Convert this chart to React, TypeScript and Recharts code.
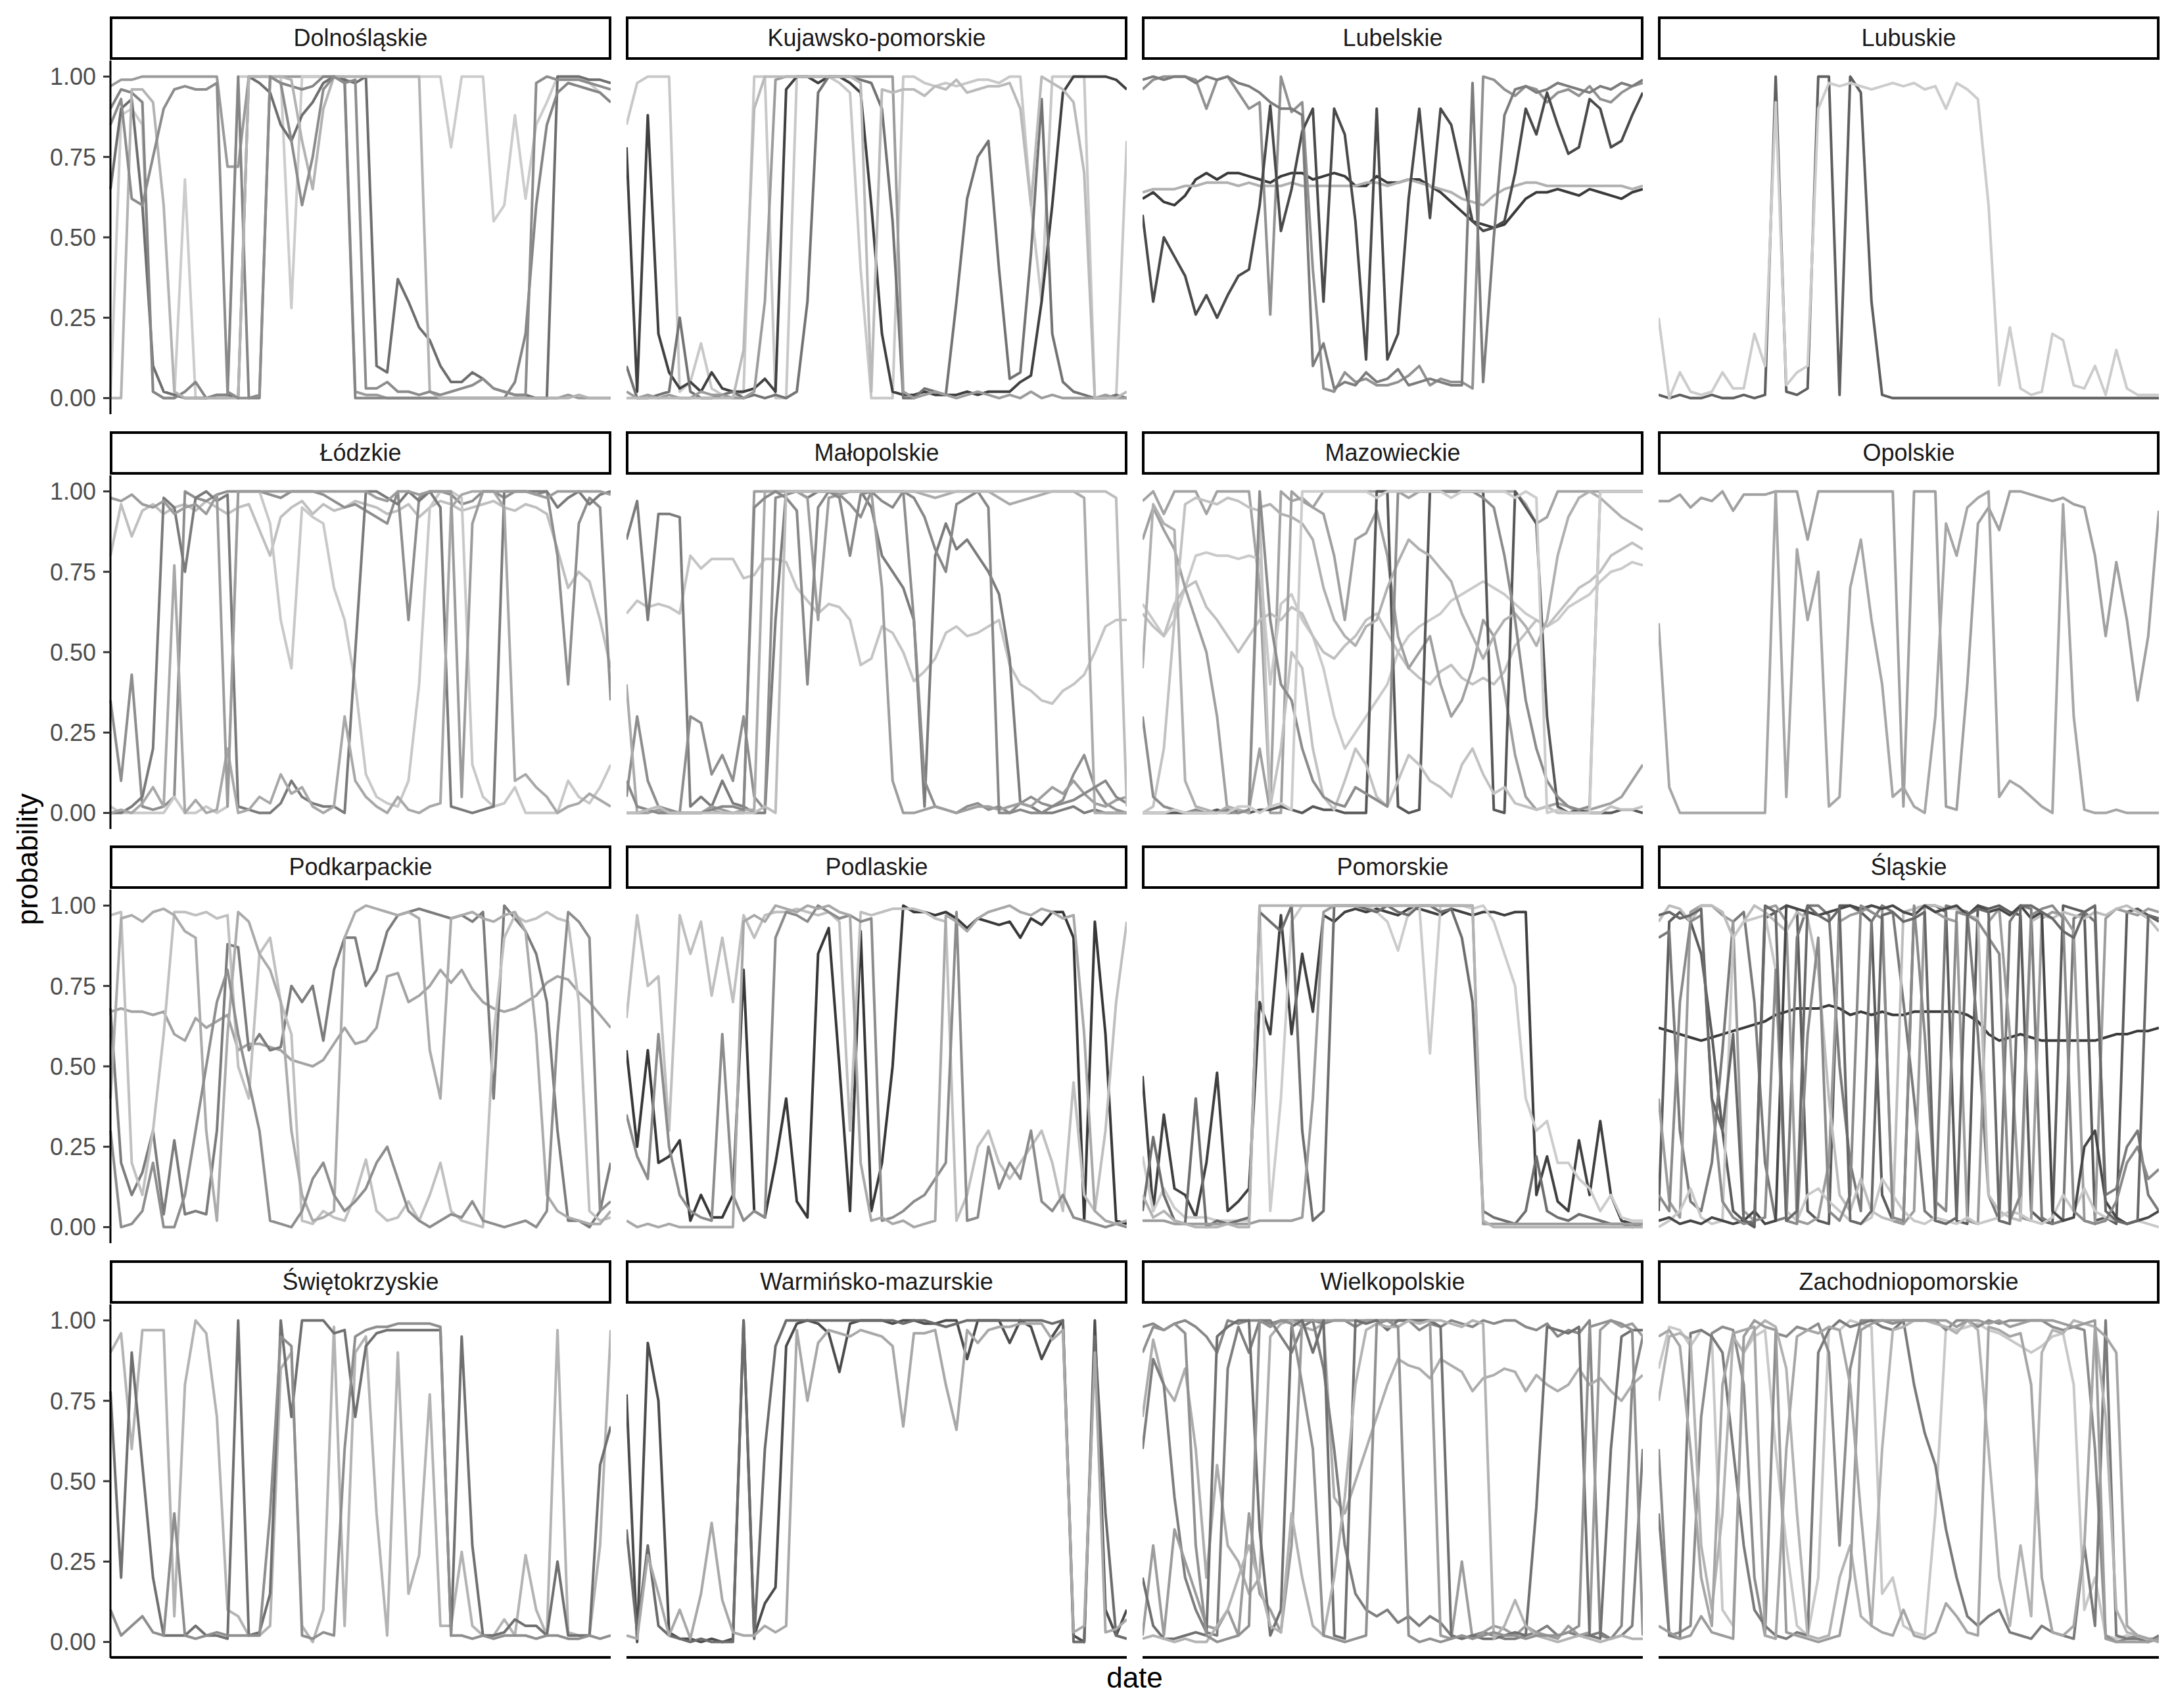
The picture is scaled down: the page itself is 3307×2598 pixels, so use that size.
import { LineChart, Line, XAxis, YAxis } from 'recharts'

// probability (in %) per time step, one array per line
const panelNames = [
  'Dolnośląskie', 'Kujawsko-pomorskie', 'Lubelskie', 'Lubuskie',
  'Łódzkie', 'Małopolskie', 'Mazowieckie', 'Opolskie',
  'Podkarpackie', 'Podlaskie', 'Pomorskie', 'Śląskie',
  'Świętokrzyskie', 'Warmińsko-mazurskie', 'Wielkopolskie', 'Zachodniopomorskie',
]

const yTicks = [0, 25, 50, 75, 100]

const dolnoslaskie = [
  [97, 99, 99, 100, 100, 100, 100, 100, 100, 100, 100, 72, 72, 100, 100, 100, 100, 100, 100, 100, 100, 100, 100, 2, 1, 1, 0, 0, 0, 0, 0, 0, 0, 0, 0, 0, 0, 0, 0, 0, 0, 0, 0, 1, 0, 0, 0, 0],
  [0, 88, 90, 85, 2, 0, 0, 68, 0, 0, 0, 0, 100, 100, 100, 100, 100, 28, 100, 100, 100, 100, 100, 100, 100, 100, 100, 100, 100, 100, 100, 100, 78, 100, 100, 100, 55, 60, 88, 62, 85, 92, 100, 100, 100, 98, 95, 92],
  [65, 90, 93, 60, 10, 2, 1, 0, 0, 0, 1, 1, 0, 100, 98, 95, 85, 80, 88, 92, 98, 100, 99, 98, 100, 10, 8, 37, 30, 22, 18, 10, 5, 5, 8, 6, 3, 2, 1, 1, 0, 0, 100, 100, 100, 99, 99, 98],
  [90, 96, 95, 92, 2, 0, 0, 2, 5, 0, 1, 1, 100, 0, 0, 100, 98, 97, 96, 97, 100, 100, 98, 0, 0, 0, 0, 0, 0, 0, 0, 0, 0, 0, 0, 0, 0, 0, 5, 20, 60, 85, 95, 98, 97, 96, 95, 92],
  [0, 0, 96, 96, 92, 60, 2, 0, 0, 0, 0, 0, 0, 100, 100, 100, 100, 99, 80, 65, 90, 100, 100, 100, 100, 100, 100, 100, 100, 100, 2, 0, 0, 0, 0, 0, 0, 0, 0, 0, 0, 0, 0, 0, 1, 0, 0, 0],
  [85, 93, 62, 60, 75, 90, 96, 97, 96, 96, 98, 2, 0, 0, 1, 100, 98, 80, 60, 75, 96, 100, 98, 99, 3, 3, 5, 2, 2, 1, 2, 1, 2, 3, 4, 6, 3, 2, 1, 1, 98, 100, 99, 99, 99, 98, 97, 96],
]

const kujawskoPomorskie = [
  [85, 98, 100, 100, 100, 2, 5, 17, 3, 1, 0, 2, 100, 100, 0, 0, 100, 100, 100, 100, 98, 95, 40, 0, 0, 0, 100, 100, 98, 97, 98, 97, 98, 99, 99, 98, 100, 100, 60, 30, 100, 100, 100, 100, 0, 0, 0, 80],
  [78, 2, 88, 20, 8, 3, 5, 2, 8, 3, 2, 2, 3, 6, 2, 96, 100, 100, 98, 100, 100, 98, 95, 60, 20, 2, 1, 1, 2, 1, 1, 1, 2, 1, 2, 2, 2, 5, 7, 30, 60, 95, 100, 100, 100, 100, 99, 96],
  [10, 0, 0, 1, 2, 25, 2, 0, 0, 1, 2, 0, 1, 0, 1, 0, 2, 30, 95, 100, 100, 100, 99, 98, 90, 55, 0, 0, 3, 2, 1, 30, 62, 75, 80, 40, 6, 8, 45, 93, 20, 5, 2, 1, 0, 0, 1, 0],
  [2, 0, 1, 0, 1, 0, 0, 2, 1, 1, 0, 0, 2, 30, 99, 100, 100, 100, 100, 100, 100, 100, 100, 100, 100, 100, 2, 0, 1, 2, 1, 0, 1, 2, 1, 0, 1, 0, 2, 0, 1, 0, 0, 0, 0, 1, 0, 0],
  [0, 0, 0, 0, 0, 0, 0, 0, 0, 0, 0, 15, 90, 100, 100, 100, 100, 100, 100, 100, 100, 100, 98, 2, 96, 95, 96, 96, 94, 97, 96, 99, 95, 96, 97, 97, 98, 90, 60, 100, 98, 96, 92, 70, 0, 0, 0, 2],
]

const lubelskie = [
  [62, 64, 61, 60, 63, 68, 70, 68, 70, 70, 69, 68, 67, 69, 70, 70, 68, 69, 70, 69, 66, 66, 69, 67, 67, 68, 68, 66, 64, 61, 58, 55, 54, 53, 54, 58, 62, 64, 64, 65, 64, 63, 65, 64, 63, 62, 64, 65],
  [64, 65, 65, 65, 66, 66, 67, 67, 67, 66, 67, 66, 66, 66, 67, 66, 66, 66, 66, 66, 66, 67, 67, 66, 67, 68, 67, 66, 65, 64, 62, 61, 60, 63, 65, 66, 67, 67, 66, 66, 66, 66, 66, 66, 66, 66, 65, 66],
  [96, 99, 100, 100, 100, 99, 90, 99, 100, 95, 90, 92, 26, 100, 89, 92, 40, 3, 2, 8, 5, 6, 4, 4, 5, 7, 10, 4, 6, 5, 5, 3, 100, 99, 96, 94, 97, 96, 92, 95, 96, 94, 97, 93, 92, 95, 97, 98],
  [57, 30, 50, 44, 38, 26, 32, 25, 32, 38, 40, 60, 91, 52, 65, 83, 90, 30, 90, 82, 55, 12, 90, 12, 20, 62, 90, 56, 90, 85, 70, 55, 52, 53, 55, 70, 90, 82, 95, 85, 76, 78, 93, 90, 78, 80, 88, 95],
  [99, 100, 99, 100, 100, 98, 100, 99, 100, 98, 97, 95, 92, 90, 90, 88, 10, 17, 3, 5, 4, 8, 5, 6, 9, 4, 5, 6, 5, 4, 4, 98, 5, 50, 88, 96, 97, 95, 96, 98, 97, 96, 95, 97, 96, 98, 97, 99],
]

const lubuskie = [
  [1, 0, 1, 0, 0, 1, 0, 0, 1, 0, 1, 100, 2, 1, 3, 100, 100, 1, 100, 95, 30, 1, 0, 0, 0, 0, 0, 0, 0, 0, 0, 0, 0, 0, 0, 0, 0, 0, 0, 0, 0, 0, 0, 0, 0, 0, 0, 0],
  [25, 0, 8, 2, 1, 2, 8, 3, 3, 20, 10, 92, 4, 8, 10, 90, 98, 97, 98, 97, 96, 97, 98, 97, 98, 96, 97, 90, 98, 96, 93, 60, 4, 22, 3, 1, 2, 20, 18, 4, 3, 10, 1, 15, 3, 1, 1, 1],
]

const lodzkie = [
  [80, 96, 86, 94, 96, 93, 95, 96, 94, 97, 95, 93, 95, 96, 88, 80, 92, 95, 97, 93, 96, 94, 95, 97, 96, 95, 93, 94, 96, 92, 95, 97, 96, 94, 95, 96, 97, 95, 94, 96, 95, 93, 82, 70, 75, 72, 60, 45],
  [35, 10, 43, 2, 1, 2, 5, 100, 98, 97, 99, 100, 100, 100, 100, 99, 98, 100, 100, 100, 99, 97, 95, 96, 94, 92, 90, 100, 60, 98, 100, 100, 99, 96, 97, 100, 100, 98, 100, 100, 99, 100, 80, 40, 90, 98, 95, 35],
  [2, 0, 0, 0, 0, 0, 5, 0, 0, 2, 0, 2, 100, 100, 100, 90, 60, 45, 95, 92, 90, 70, 60, 40, 12, 5, 3, 2, 10, 40, 95, 100, 100, 98, 15, 5, 2, 3, 8, 0, 0, 0, 0, 10, 5, 3, 8, 15],
  [0, 0, 2, 5, 20, 98, 95, 75, 98, 100, 97, 99, 2, 1, 0, 0, 3, 10, 5, 3, 2, 2, 0, 50, 100, 100, 98, 96, 100, 97, 100, 95, 2, 1, 0, 1, 2, 100, 100, 100, 100, 100, 95, 98, 100, 96, 99, 100],
  [0, 1, 0, 3, 8, 2, 77, 0, 4, 0, 1, 20, 0, 1, 5, 3, 12, 6, 8, 2, 0, 2, 30, 10, 5, 2, 0, 5, 1, 0, 2, 3, 95, 99, 100, 100, 100, 95, 10, 12, 8, 5, 0, 2, 3, 6, 4, 2],
  [98, 97, 99, 96, 95, 97, 93, 95, 96, 93, 99, 2, 100, 100, 100, 100, 100, 100, 100, 100, 100, 100, 100, 100, 100, 98, 97, 100, 100, 99, 100, 100, 100, 5, 90, 100, 100, 100, 100, 100, 99, 98, 100, 100, 100, 100, 100, 99],
]

const malopolskie = [
  [62, 66, 64, 65, 64, 62, 80, 76, 79, 79, 79, 73, 74, 79, 79, 78, 70, 66, 62, 65, 64, 60, 46, 48, 58, 56, 50, 41, 44, 48, 56, 58, 55, 56, 58, 60, 46, 40, 38, 35, 34, 38, 40, 43, 50, 58, 60, 60],
  [85, 97, 60, 93, 93, 92, 2, 5, 2, 10, 3, 2, 0, 0, 60, 100, 100, 98, 100, 100, 99, 100, 100, 95, 80, 75, 70, 60, 2, 80, 90, 82, 85, 80, 75, 68, 48, 3, 2, 0, 0, 1, 2, 0, 1, 0, 0, 0],
  [5, 30, 10, 2, 1, 0, 30, 28, 12, 18, 10, 30, 5, 1, 98, 99, 100, 100, 100, 100, 99, 96, 92, 100, 100, 100, 100, 60, 10, 2, 1, 0, 2, 3, 1, 2, 0, 3, 5, 3, 2, 4, 12, 18, 8, 3, 1, 0],
  [0, 0, 0, 1, 0, 0, 0, 0, 2, 1, 0, 0, 100, 100, 100, 100, 100, 98, 60, 98, 99, 100, 100, 100, 70, 10, 0, 0, 1, 2, 1, 0, 1, 2, 2, 1, 2, 3, 2, 5, 8, 6, 10, 6, 3, 2, 4, 5],
  [40, 0, 1, 0, 0, 0, 0, 0, 1, 0, 0, 1, 1, 100, 100, 100, 100, 100, 100, 100, 100, 100, 100, 100, 100, 100, 100, 100, 99, 98, 99, 100, 100, 100, 100, 98, 96, 97, 98, 99, 100, 100, 100, 98, 0, 0, 0, 0],
  [10, 2, 1, 0, 0, 0, 0, 0, 1, 2, 2, 1, 95, 98, 100, 98, 94, 40, 95, 100, 98, 80, 99, 100, 97, 95, 100, 98, 92, 82, 75, 96, 98, 100, 95, 0, 0, 1, 0, 0, 2, 3, 4, 6, 8, 10, 5, 3],
  [0, 0, 1, 2, 0, 0, 0, 0, 0, 0, 0, 0, 0, 2, 0, 100, 100, 100, 100, 100, 100, 100, 100, 100, 100, 100, 100, 100, 100, 100, 100, 100, 100, 100, 100, 100, 100, 100, 100, 100, 100, 100, 100, 100, 100, 100, 98, 2],
]

const mazowieckie = [
  [97, 100, 93, 100, 100, 100, 93, 100, 100, 100, 100, 70, 2, 100, 97, 98, 95, 100, 100, 100, 100, 100, 100, 100, 100, 98, 100, 100, 100, 100, 100, 100, 100, 100, 100, 100, 96, 90, 92, 100, 100, 100, 100, 100, 100, 100, 100, 100],
  [65, 60, 55, 60, 70, 80, 81, 80, 80, 79, 80, 79, 40, 65, 68, 60, 55, 45, 30, 20, 25, 30, 35, 40, 50, 55, 58, 60, 62, 66, 68, 70, 72, 70, 68, 65, 62, 60, 58, 60, 64, 66, 68, 72, 75, 76, 78, 77],
  [62, 58, 55, 65, 70, 72, 64, 60, 55, 50, 55, 60, 62, 60, 64, 62, 55, 50, 48, 52, 55, 60, 62, 56, 50, 45, 42, 40, 44, 46, 42, 40, 42, 40, 44, 52, 56, 60, 58, 62, 66, 70, 72, 75, 80, 82, 84, 82],
  [85, 95, 88, 82, 70, 60, 50, 30, 0, 0, 1, 20, 0, 0, 100, 97, 95, 93, 80, 60, 85, 87, 94, 80, 55, 45, 50, 55, 40, 30, 35, 45, 60, 55, 38, 18, 5, 1, 2, 3, 2, 0, 1, 2, 3, 5, 10, 15],
  [0, 0, 0, 0, 0, 0, 0, 1, 0, 1, 0, 1, 1, 2, 1, 0, 2, 1, 1, 0, 0, 0, 100, 100, 2, 0, 1, 100, 100, 100, 100, 100, 100, 1, 0, 100, 95, 90, 30, 2, 0, 1, 0, 0, 0, 1, 1, 0],
  [45, 96, 90, 88, 10, 2, 1, 0, 2, 1, 0, 95, 96, 93, 92, 90, 85, 70, 60, 55, 52, 58, 60, 70, 78, 85, 82, 80, 76, 72, 62, 55, 48, 55, 60, 62, 58, 52, 60, 80, 92, 98, 100, 98, 95, 92, 90, 88],
  [0, 2, 20, 60, 96, 98, 97, 96, 98, 97, 95, 94, 2, 20, 50, 45, 20, 5, 1, 10, 20, 15, 5, 2, 10, 18, 15, 10, 8, 5, 15, 20, 12, 6, 8, 3, 2, 1, 2, 0, 0, 0, 0, 0, 2, 1, 1, 2],
  [30, 5, 2, 1, 0, 1, 0, 0, 1, 0, 1, 100, 60, 40, 35, 20, 10, 5, 3, 2, 8, 6, 4, 2, 100, 100, 100, 100, 100, 100, 100, 100, 98, 95, 80, 60, 35, 20, 10, 5, 2, 1, 2, 100, 100, 100, 100, 100],
  [0, 0, 0, 1, 0, 0, 0, 0, 0, 2, 2, 0, 2, 3, 1, 100, 100, 100, 100, 100, 100, 100, 98, 100, 100, 100, 100, 100, 100, 98, 100, 100, 100, 100, 100, 98, 100, 98, 0, 1, 0, 0, 0, 100, 100, 100, 100, 100],
]

const opolskie = [
  [97, 97, 99, 95, 98, 97, 100, 94, 99, 99, 99, 100, 100, 100, 85, 100, 100, 100, 100, 100, 100, 100, 100, 2, 100, 100, 100, 2, 1, 40, 90, 95, 88, 100, 100, 99, 98, 97, 98, 96, 95, 80, 55, 78, 60, 35, 55, 94],
  [59, 8, 0, 0, 0, 0, 0, 0, 0, 0, 0, 100, 5, 82, 60, 75, 2, 5, 70, 85, 60, 40, 5, 8, 2, 0, 30, 90, 80, 95, 98, 100, 5, 10, 8, 5, 2, 0, 96, 30, 1, 0, 0, 1, 0, 0, 0, 0],
]

const podkarpackie = [
  [67, 68, 67, 67, 66, 67, 60, 58, 65, 62, 64, 66, 55, 57, 57, 56, 55, 52, 51, 50, 52, 57, 62, 57, 58, 62, 78, 79, 70, 72, 75, 80, 76, 80, 74, 70, 68, 67, 68, 70, 72, 76, 78, 77, 73, 70, 66, 62],
  [68, 20, 10, 17, 30, 4, 27, 4, 5, 4, 30, 88, 87, 55, 60, 55, 56, 75, 70, 75, 58, 80, 90, 90, 75, 80, 92, 97, 98, 99, 98, 97, 96, 97, 95, 98, 40, 100, 96, 92, 85, 70, 30, 2, 2, 0, 5, 20],
  [97, 98, 20, 10, 30, 60, 98, 98, 97, 98, 96, 97, 50, 40, 85, 90, 70, 60, 2, 1, 5, 3, 2, 10, 21, 5, 2, 3, 8, 2, 10, 20, 5, 2, 1, 0, 60, 90, 97, 95, 96, 98, 96, 95, 70, 5, 2, 3],
  [40, 96, 97, 95, 98, 99, 97, 92, 90, 30, 2, 60, 98, 95, 85, 80, 70, 30, 10, 2, 3, 5, 90, 98, 100, 99, 98, 97, 98, 96, 55, 40, 96, 97, 98, 96, 95, 97, 98, 92, 60, 10, 5, 3, 2, 1, 1, 5],
  [30, 0, 1, 5, 20, 0, 0, 10, 30, 50, 70, 80, 60, 45, 30, 2, 1, 0, 5, 15, 20, 10, 5, 8, 12, 20, 25, 15, 5, 2, 0, 2, 4, 3, 8, 2, 1, 0, 1, 2, 0, 5, 60, 98, 95, 90, 5, 8],
]

const podlaskie = [
  [55, 25, 55, 20, 22, 27, 2, 10, 3, 3, 10, 80, 5, 3, 20, 40, 8, 3, 85, 93, 50, 5, 92, 5, 20, 50, 100, 98, 98, 97, 98, 96, 93, 96, 95, 94, 95, 90, 96, 94, 98, 98, 90, 2, 95, 60, 2, 1],
  [65, 97, 75, 78, 30, 97, 85, 95, 72, 90, 70, 97, 90, 97, 98, 98, 99, 98, 97, 98, 95, 30, 98, 97, 98, 99, 99, 99, 98, 96, 95, 2, 10, 25, 30, 20, 15, 20, 25, 30, 20, 5, 45, 10, 5, 30, 70, 95],
  [35, 22, 15, 60, 25, 10, 5, 3, 2, 60, 10, 2, 5, 3, 90, 98, 97, 95, 100, 98, 96, 97, 95, 96, 2, 3, 5, 8, 10, 15, 20, 98, 2, 3, 25, 12, 20, 15, 30, 8, 5, 10, 3, 2, 1, 0, 1, 0],
  [2, 0, 1, 0, 1, 0, 0, 0, 0, 0, 0, 95, 97, 95, 100, 99, 98, 100, 99, 100, 98, 97, 20, 2, 3, 1, 2, 0, 1, 2, 97, 95, 92, 96, 98, 99, 100, 98, 97, 99, 98, 96, 97, 60, 5, 2, 1, 2],
]

const pomorskie = [
  [47, 5, 35, 12, 10, 3, 20, 48, 5, 8, 12, 70, 60, 97, 60, 85, 67, 97, 95, 98, 99, 98, 99, 98, 97, 99, 99, 98, 97, 99, 98, 97, 98, 98, 97, 98, 98, 10, 22, 8, 5, 27, 10, 33, 10, 2, 1, 1],
  [22, 5, 12, 6, 3, 3, 3, 2, 2, 2, 2, 100, 5, 40, 95, 100, 100, 100, 100, 100, 100, 100, 98, 95, 86, 98, 100, 54, 100, 100, 100, 99, 100, 95, 85, 75, 40, 30, 33, 20, 20, 15, 12, 5, 10, 3, 2, 2],
  [5, 28, 10, 2, 1, 40, 0, 2, 1, 2, 3, 98, 95, 92, 100, 30, 2, 5, 100, 100, 100, 99, 98, 100, 98, 97, 100, 100, 98, 99, 90, 70, 5, 3, 2, 1, 5, 22, 5, 3, 2, 4, 3, 2, 1, 1, 0, 1],
  [2, 2, 2, 1, 1, 1, 1, 1, 1, 1, 1, 2, 2, 2, 2, 3, 40, 98, 100, 100, 100, 100, 100, 100, 100, 100, 100, 100, 100, 100, 100, 100, 1, 1, 1, 1, 1, 1, 1, 1, 1, 1, 1, 1, 1, 1, 1, 1],
  [10, 3, 5, 2, 1, 0, 0, 0, 1, 0, 0, 100, 100, 100, 100, 100, 100, 100, 100, 100, 100, 100, 100, 100, 100, 100, 100, 100, 100, 100, 100, 100, 2, 0, 0, 0, 0, 0, 0, 0, 0, 0, 0, 0, 0, 0, 0, 0],
]

const slaskie = [
  [62, 61, 60, 59, 58, 59, 60, 61, 62, 63, 64, 66, 67, 68, 68, 68, 69, 68, 66, 67, 66, 67, 66, 66, 67, 67, 67, 67, 67, 66, 64, 60, 58, 59, 60, 59, 58, 58, 58, 58, 58, 58, 59, 60, 60, 61, 61, 62],
  [5, 95, 98, 95, 85, 60, 30, 5, 2, 0, 96, 98, 100, 99, 5, 2, 1, 100, 100, 98, 95, 10, 2, 1, 99, 100, 100, 98, 2, 1, 100, 99, 100, 98, 97, 5, 2, 1, 100, 99, 98, 2, 3, 1, 98, 99, 97, 95],
  [90, 92, 30, 8, 5, 20, 55, 95, 98, 70, 20, 2, 3, 90, 100, 100, 97, 50, 20, 5, 95, 100, 98, 70, 40, 5, 2, 100, 99, 98, 60, 10, 2, 95, 100, 99, 3, 1, 2, 96, 98, 95, 10, 12, 25, 30, 10, 5],
  [40, 8, 3, 98, 100, 100, 97, 95, 5, 2, 99, 100, 95, 2, 1, 3, 20, 95, 97, 98, 100, 99, 2, 1, 5, 100, 98, 96, 95, 2, 1, 95, 99, 60, 3, 2, 96, 98, 97, 92, 2, 1, 96, 99, 98, 97, 99, 98],
  [95, 100, 99, 95, 100, 100, 98, 90, 95, 100, 98, 95, 92, 98, 96, 80, 40, 10, 5, 15, 5, 3, 2, 98, 99, 100, 100, 99, 99, 97, 96, 10, 5, 3, 2, 95, 97, 96, 98, 97, 96, 98, 97, 99, 100, 98, 96, 92],
  [0, 2, 5, 12, 3, 1, 2, 90, 95, 96, 97, 80, 5, 2, 10, 12, 8, 5, 2, 1, 3, 15, 10, 5, 2, 1, 3, 2, 1, 3, 1, 2, 3, 5, 4, 2, 1, 3, 10, 5, 12, 5, 3, 2, 1, 2, 1, 0],
  [2, 3, 1, 2, 1, 3, 2, 1, 2, 5, 1, 2, 100, 99, 98, 97, 98, 99, 100, 99, 100, 99, 100, 98, 97, 100, 98, 99, 100, 97, 100, 98, 99, 97, 100, 96, 98, 5, 2, 3, 25, 30, 8, 3, 1, 2, 3, 5],
  [10, 5, 70, 95, 97, 40, 8, 3, 1, 2, 3, 80, 2, 1, 60, 90, 5, 2, 10, 100, 98, 96, 3, 2, 100, 60, 8, 5, 98, 97, 95, 90, 85, 2, 10, 97, 99, 100, 96, 5, 2, 1, 2, 8, 20, 25, 15, 18],
  [97, 98, 96, 97, 99, 40, 30, 60, 2, 1, 100, 98, 2, 5, 100, 97, 95, 99, 2, 1, 5, 97, 98, 95, 96, 98, 2, 1, 3, 97, 99, 98, 2, 1, 100, 100, 98, 96, 92, 90, 98, 100, 5, 2, 1, 2, 97, 96],
]

const swietokrzyskie = [
  [90, 96, 60, 97, 97, 97, 8, 80, 100, 96, 70, 10, 8, 2, 2, 5, 85, 90, 5, 0, 10, 98, 5, 90, 95, 40, 2, 90, 15, 27, 77, 5, 5, 28, 5, 2, 2, 7, 2, 27, 10, 2, 97, 3, 2, 2, 30, 97],
  [78, 20, 90, 55, 20, 2, 2, 2, 5, 2, 2, 1, 100, 2, 3, 15, 100, 70, 100, 100, 100, 96, 97, 70, 92, 96, 97, 97, 97, 97, 97, 97, 2, 95, 30, 2, 2, 3, 7, 5, 5, 2, 25, 2, 2, 2, 55, 67],
  [10, 2, 5, 8, 3, 2, 40, 2, 1, 2, 3, 2, 2, 2, 2, 40, 95, 92, 2, 1, 3, 2, 60, 95, 97, 98, 98, 99, 99, 99, 99, 98, 2, 2, 1, 2, 1, 2, 2, 2, 1, 2, 2, 1, 1, 2, 1, 2],
]

const warminskoMazurskie = [
  [77, 0, 93, 75, 3, 1, 1, 0, 1, 0, 1, 100, 2, 12, 17, 92, 99, 100, 99, 96, 84, 99, 100, 100, 100, 99, 100, 100, 99, 99, 100, 100, 88, 100, 100, 100, 93, 100, 98, 88, 95, 100, 2, 0, 100, 10, 2, 10],
  [35, 3, 30, 5, 2, 1, 0, 1, 0, 0, 0, 100, 1, 60, 92, 100, 100, 100, 100, 100, 100, 100, 100, 100, 100, 100, 99, 100, 100, 99, 98, 99, 100, 100, 100, 100, 100, 100, 100, 100, 99, 100, 0, 0, 95, 40, 2, 1],
  [2, 1, 27, 15, 2, 10, 1, 15, 37, 13, 3, 2, 2, 5, 3, 5, 97, 75, 93, 97, 96, 95, 97, 96, 95, 92, 67, 96, 96, 97, 80, 66, 97, 93, 97, 98, 98, 99, 99, 99, 94, 97, 3, 5, 90, 3, 4, 7],
]

const wielkopolskie = [
  [98, 99, 97, 99, 100, 98, 95, 90, 100, 99, 100, 100, 99, 100, 100, 100, 100, 99, 100, 100, 98, 100, 100, 100, 100, 100, 97, 99, 98, 100, 99, 98, 100, 99, 100, 100, 98, 97, 99, 95, 97, 96, 100, 2, 1, 5, 80, 95],
  [70, 94, 80, 75, 85, 60, 20, 55, 30, 25, 15, 20, 95, 99, 100, 98, 97, 99, 45, 40, 50, 60, 70, 80, 88, 86, 85, 82, 88, 86, 84, 78, 82, 83, 85, 84, 78, 83, 80, 78, 80, 85, 80, 82, 78, 75, 80, 83],
  [60, 88, 80, 45, 20, 10, 3, 2, 85, 98, 90, 100, 100, 95, 90, 98, 100, 85, 60, 30, 15, 10, 8, 10, 6, 8, 5, 8, 6, 2, 1, 2, 3, 2, 1, 1, 2, 3, 5, 2, 3, 2, 2, 3, 1, 2, 5, 60],
  [2, 30, 2, 35, 25, 15, 5, 4, 10, 2, 40, 15, 10, 3, 30, 100, 100, 100, 100, 100, 100, 100, 100, 100, 98, 100, 100, 100, 2, 1, 25, 1, 3, 5, 4, 2, 5, 3, 2, 1, 5, 2, 3, 97, 100, 98, 99, 95],
  [20, 5, 1, 1, 2, 3, 2, 95, 98, 100, 100, 35, 2, 10, 98, 100, 90, 100, 2, 1, 100, 99, 100, 97, 100, 100, 100, 100, 98, 2, 1, 2, 1, 1, 2, 3, 2, 42, 98, 97, 96, 98, 2, 1, 60, 95, 97, 97],
  [1, 2, 1, 0, 1, 0, 0, 5, 10, 20, 30, 18, 5, 3, 40, 20, 5, 2, 20, 45, 80, 97, 99, 98, 98, 100, 99, 100, 100, 99, 98, 100, 99, 1, 5, 13, 5, 2, 1, 0, 1, 2, 1, 0, 1, 2, 1, 1],
  [90, 98, 97, 99, 96, 30, 2, 0, 1, 2, 5, 100, 98, 100, 99, 80, 60, 2, 1, 0, 1, 2, 99, 100, 98, 2, 0, 1, 0, 1, 2, 1, 2, 3, 2, 2, 1, 2, 2, 2, 3, 5, 98, 99, 100, 99, 97, 2],
]

const zachodniopomorskie = [
  [85, 98, 97, 92, 97, 95, 10, 5, 90, 95, 97, 60, 30, 5, 2, 20, 98, 97, 100, 99, 98, 15, 20, 5, 3, 2, 40, 98, 97, 98, 99, 97, 96, 94, 92, 90, 92, 95, 96, 80, 10, 20, 2, 1, 2, 1, 0, 1],
  [60, 2, 3, 5, 70, 96, 98, 97, 80, 20, 2, 96, 95, 98, 97, 99, 90, 30, 85, 100, 100, 100, 99, 100, 100, 100, 100, 97, 100, 100, 98, 100, 99, 100, 100, 100, 100, 98, 97, 98, 97, 60, 2, 0, 1, 2, 1, 1],
  [40, 2, 1, 96, 97, 95, 90, 60, 30, 10, 5, 2, 1, 3, 2, 90, 97, 100, 98, 99, 100, 98, 97, 100, 80, 65, 55, 35, 20, 8, 5, 8, 10, 3, 2, 1, 5, 3, 2, 1, 30, 5, 100, 2, 1, 1, 0, 2],
  [75, 95, 96, 94, 30, 10, 40, 95, 90, 97, 100, 98, 85, 40, 2, 1, 2, 20, 30, 8, 5, 60, 97, 98, 100, 100, 99, 98, 96, 100, 97, 60, 20, 5, 30, 8, 90, 97, 96, 100, 99, 98, 70, 10, 3, 2, 1, 0],
  [5, 3, 1, 2, 8, 3, 2, 1, 95, 100, 98, 97, 3, 2, 1, 0, 1, 2, 20, 97, 99, 100, 100, 100, 100, 100, 100, 100, 98, 100, 100, 99, 100, 98, 99, 100, 100, 100, 99, 98, 99, 100, 1, 0, 0, 0, 0, 1],
  [95, 97, 92, 60, 20, 5, 80, 96, 97, 98, 2, 1, 60, 95, 97, 96, 98, 97, 80, 40, 5, 3, 2, 10, 2, 1, 3, 12, 8, 3, 2, 98, 97, 95, 96, 80, 20, 3, 2, 5, 30, 98, 95, 90, 5, 2, 1, 0],
]

const panelSeries = [
  dolnoslaskie, kujawskoPomorskie, lubelskie, lubuskie,
  lodzkie, malopolskie, mazowieckie, opolskie,
  podkarpackie, podlaskie, pomorskie, slaskie,
  swietokrzyskie, warminskoMazurskie, wielkopolskie, zachodniopomorskie,
]

// grey shade of each line, panel by panel
const panelColors = [
  ['#9a9a9a', '#cccccc', '#6e6e6e', '#858585', '#b3b3b3', '#8c8c8c'],
  ['#c8c8c8', '#404040', '#737373', '#9c9c9c', '#bababa'],
  ['#3a3a3a', '#b0b0b0', '#919191', '#4a4a4a', '#7c7c7c'],
  ['#5f5f5f', '#cccccc'],
  ['#bfbfbf', '#8e8e8e', '#c8c8c8', '#7a7a7a', '#a8a8a8', '#9c9c9c'],
  ['#c4c4c4', '#7c7c7c', '#8e8e8e', '#9e9e9e', '#ababab', '#888888', '#bdbdbd'],
  ['#a3a3a3', '#cacaca', '#c0c0c0', '#a0a0a0', '#575757', '#b0b0b0', '#c2c2c2', '#8c8c8c', '#cccccc'],
  ['#a0a0a0', '#a6a6a6'],
  ['#a3a3a3', '#7c7c7c', '#c0c0c0', '#ababab', '#8e8e8e'],
  ['#383838', '#bfbfbf', '#8c8c8c', '#a8a8a8'],
  ['#404040', '#cccccc', '#6e6e6e', '#9c9c9c', '#b3b3b3'],
  ['#3a3a3a', '#5c5c5c', '#7a7a7a', '#9c9c9c', '#bdbdbd', '#c8c8c8', '#474747', '#8a8a8a', '#696969'],
  ['#b3b3b3', '#707070', '#8e8e8e'],
  ['#4c4c4c', '#6c6c6c', '#a8a8a8'],
  ['#888888', '#adadad', '#7e7e7e', '#9c9c9c', '#707070', '#b3b3b3', '#919191'],
  ['#c8c8c8', '#8c8c8c', '#7a7a7a', '#b3b3b3', '#9c9c9c', '#a6a6a6'],
]

const FONT = '"Liberation Sans", Arial, sans-serif'
const COL_X = [168, 953, 1738, 2523]
const ROW_Y = [92, 723, 1353, 1984]
const PW = 761
const PH = 538
const AXIS_W = 160
const STRIP_H = 66

function Panel({ idx }: { idx: number }) {
  const col = idx % 4
  const row = Math.floor(idx / 4)
  const series = panelSeries[idx]
  const colors = panelColors[idx]
  const n = Math.max(...series.map((s) => s.length))
  const data = Array.from({ length: n }, (_, i) => {
    const r: Record<string, number> = { t: i }
    series.forEach((s, k) => {
      r['s' + k] = s[i]
    })
    return r
  })
  const withAxis = col === 0
  const left = withAxis ? COL_X[col] - AXIS_W : COL_X[col]
  const top = ROW_Y[row]

  return (
    <>
      <div
        style={{
          position: 'absolute',
          left: COL_X[col] - 1,
          top: top - STRIP_H - 1,
          width: PW + 2,
          height: STRIP_H,
          boxSizing: 'border-box',
          border: '4px solid #000',
          background: '#fff',
          display: 'flex',
          alignItems: 'center',
          justifyContent: 'center',
          fontFamily: FONT,
          fontSize: 36,
          color: '#1a1a1a',
        }}
      >
        {panelNames[idx]}
      </div>
      <div style={{ position: 'absolute', left, top }}>
        <LineChart
          width={withAxis ? PW + AXIS_W : PW}
          height={PH}
          data={data}
          margin={{ top: 0, right: 0, bottom: 0, left: 0 }}
        >
          <XAxis dataKey="t" type="number" domain={[0, n - 1]} hide />
          <YAxis
            type="number"
            domain={[-5, 105]}
            ticks={yTicks}
            interval={0}
            hide={!withAxis}
            width={AXIS_W}
            tickFormatter={(v: number) => (v / 100).toFixed(2)}
            tick={{ fill: '#4d4d4d', fontSize: 36, fontFamily: FONT }}
            tickLine={{ stroke: '#333', strokeWidth: 3 }}
            tickSize={11}
            tickMargin={11}
            axisLine={{ stroke: '#000', strokeWidth: 3 }}
          />
          {series.map((_, k) => (
            <Line
              key={k}
              dataKey={'s' + k}
              type="linear"
              stroke={colors[k % colors.length]}
              strokeWidth={4}
              strokeLinejoin="round"
              dot={false}
              activeDot={false}
              isAnimationActive={false}
            />
          ))}
        </LineChart>
      </div>
      {row === 3 && (
        <div
          style={{
            position: 'absolute',
            left: COL_X[col],
            top: top + PH - 3,
            width: PW,
            height: 4,
            background: '#000',
          }}
        />
      )}
    </>
  )
}

export default function App() {
  return (
    <div
      style={{
        position: 'absolute',
        left: 0,
        top: 0,
        width: 3307,
        height: 2598,
        background: '#fff',
        overflow: 'hidden',
      }}
    >
      {panelNames.map((_, i) => (
        <Panel key={i} idx={i} />
      ))}
      <div
        style={{
          position: 'absolute',
          left: 42,
          top: 1307,
          transform: 'translate(-50%, -50%) rotate(-90deg)',
          fontFamily: FONT,
          fontSize: 44,
          color: '#000',
          whiteSpace: 'nowrap',
        }}
      >
        probability
      </div>
      <div
        style={{
          position: 'absolute',
          left: 1726,
          top: 2552,
          transform: 'translate(-50%, -50%)',
          fontFamily: FONT,
          fontSize: 44,
          color: '#000',
        }}
      >
        date
      </div>
    </div>
  )
}
